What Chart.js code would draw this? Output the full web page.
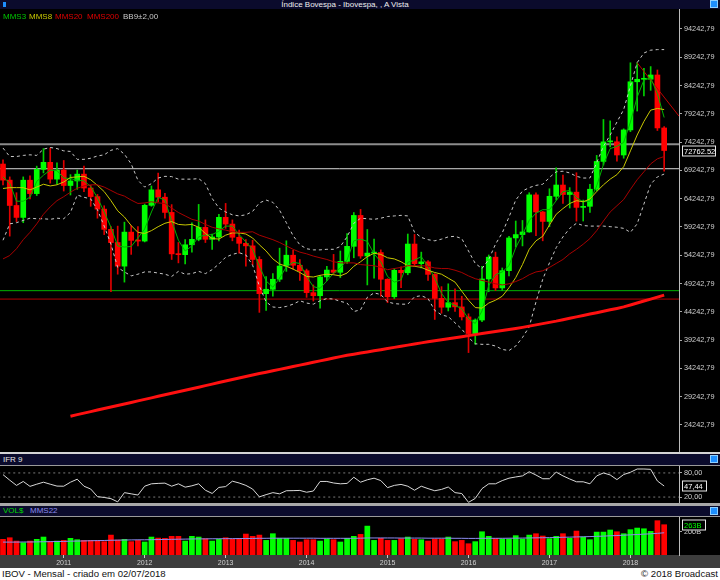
<!DOCTYPE html>
<html>
<head>
<meta charset="utf-8">
<title>Índice Bovespa - Ibovespa</title>
<script src="https://cdn.jsdelivr.net/npm/chart.js@4.4.1/dist/chart.umd.min.js"></script>
<style>
  body { margin: 0; width: 720px; height: 580px; background: #000; position: relative; overflow: hidden;
         font-family: "Liberation Sans", Arial, sans-serif; }
  .abs { position: absolute; }
  .bar { left: 0; width: 720px; background: #0b0b2c; }
  .txt { position: absolute; font-size: 8px; line-height: 10px; white-space: nowrap; }
  .icon { position: absolute; right: 2px; width: 6px; height: 6px; background: #1e8fff; border: 1px solid #8fd0ff; }
  canvas { display: block; }
</style>
</head>
<body>

<!-- title bar -->
<div class="abs bar" style="top:0;height:9px"></div>
<div class="abs" style="left:3px;top:2px;width:3px;height:5px;background:#1e8fff"></div>
<div class="txt" style="left:0;top:0;width:690px;text-align:center;line-height:9px;color:#eee">Índice Bovespa - Ibovespa, , A Vista</div>
<div class="icon" style="top:0"></div>

<!-- main panel -->
<div class="abs" style="left:0;top:9px;width:720px;height:443px"><canvas id="main-chart" width="720" height="443"></canvas></div>
<div class="txt" style="left:3px;top:12px;color:#00c800">MMS3</div>
<div class="txt" style="left:29px;top:12px;color:#c8c800">MMS8</div>
<div class="txt" style="left:55px;top:12px;color:#e00000">MMS20</div>
<div class="txt" style="left:87px;top:12px;color:#e00000">MMS200</div>
<div class="txt" style="left:123px;top:12px;color:#c8c8c8">BB9±2,00</div>

<!-- IFR panel -->
<div class="abs" style="left:0;top:452px;width:720px;height:2px;background:#d4d4d4"></div>
<div class="abs bar" style="top:454px;height:11px"></div>
<div class="abs" style="left:0;top:465px;width:720px;height:1px;background:#9a9a9a"></div>
<div class="txt" style="left:3px;top:455px;color:#e6e6e6">IFR 9</div>
<div class="icon" style="top:455px"></div>
<div class="abs" style="left:0;top:466px;width:720px;height:37px"><canvas id="rsi-chart" width="720" height="37"></canvas></div>

<!-- volume panel -->
<div class="abs" style="left:0;top:503px;width:720px;height:3px;background:#a8a8a8"></div>
<div class="abs bar" style="top:506px;height:10px"></div>
<div class="abs" style="left:0;top:516px;width:720px;height:1px;background:#9a9a9a"></div>
<div class="txt" style="left:3px;top:506px;color:#00d800">VOL$</div>
<div class="txt" style="left:30px;top:506px;color:#8c8cf0">MMS22</div>
<div class="icon" style="top:507px"></div>
<div class="abs" style="left:0;top:555px;width:720px;height:13px;background:#3d3d3d"></div>
<div class="abs" style="left:0;top:517px;width:720px;height:51px"><canvas id="vol-chart" width="720" height="51"></canvas></div>

<!-- footer -->
<div class="abs" style="left:0;top:568px;width:720px;height:12px;background:#fff"></div>
<div class="txt" style="left:2px;top:568px;font-size:9.6px;line-height:12px;color:#111">IBOV - Mensal - criado em 02/07/2018</div>
<div class="txt" style="right:2px;top:568px;font-size:9.6px;line-height:12px;color:#111">© 2018 Broadcast</div>

<script>
// --- DATA: monthly candles, Apr/2010 .. Jun/2018 ---
const opens = [70372,67529,63046,60936,67515,65145,69430,70673,67705,69305,
  66575,67383,68587,66133,64620,62404,58823,56495,52324,58338,
  56875,56754,63072,65812,64511,61820,54491,54355,56097,57061,
  59176,57068,57475,60952,59761,57424,56352,55910,53506,47457,
  48234,50008,52338,54256,52482,51507,47639,47094,50415,51627,
  51239,53168,55829,61288,54116,54629,54724,50007,46908,51583,
  51150,56229,52760,53081,50865,46626,45059,45868,45120,43350,
  40406,42793,50055,53910,48472,51527,57308,57901,58367,64924,
  61906,60227,64670,66662,64984,65403,62711,62900,65920,70835,
  74294,74308,71971,76402,84913,85353,85366,86115,76754];
const highs = [71100,68100,65300,68100,68300,70000,73100,73200,70600,71000,
  68500,69300,70000,66600,65000,63000,59300,59400,60100,59500,
  59300,63300,66500,68770,65200,63200,56500,57000,60000,63235,
  60500,58000,61500,63410,60500,58700,57000,56900,54000,50500,
  51000,55500,56800,55100,53500,51800,49000,50700,52300,54400,
  55000,58100,61800,62350,58800,57100,55200,50100,51900,52200,
  58000,57930,54800,53300,51000,48700,49200,48300,47000,43900,
  43000,52300,54300,54800,52000,57600,60300,60400,65300,65300,
  62000,66000,69710,68400,66200,68830,64000,66800,71900,78250,
  78000,75200,76600,88270,88270,87300,87600,87000,77000];
const lows = [66700,57634,60200,60000,64200,64800,68800,67000,66800,65600,
  64900,65900,65500,62900,60800,57900,47793,50900,49500,54400,
  55900,56600,62900,63700,60800,53500,52900,52700,54800,56800,
  56500,55280,56800,59000,56800,54600,52300,52600,44150,44500,
  47000,49600,51400,51800,49800,46800,46150,44900,49800,50900,
  50300,52800,53800,53700,49000,50200,47000,45860,46600,48500,
  50800,52300,52000,49800,42900,44000,44400,44300,42800,37046,
  38500,42500,47800,48000,48000,50600,55700,55900,58300,57700,
  56800,59300,64000,63400,62600,60280,60300,61800,65600,70200,
  73400,70900,71400,76100,79740,82400,83400,76300,69130];
const closes = [67529,63046,60936,67515,65145,69430,70673,67705,69305,66575,
  67383,68587,66133,64620,62404,58823,56495,52324,58338,56875,
  56754,63072,65812,64511,61820,54491,54355,56097,57061,59176,
  57068,57475,60952,59761,57424,56352,55910,53506,47457,48234,
  50008,52338,54256,52482,51507,47639,47094,50415,51627,51239,
  53168,55829,61288,54116,54629,54724,50007,46908,51583,51150,
  56229,52760,53081,50865,46626,45059,45868,45120,43350,40406,
  42793,50055,53910,48472,51527,57308,57901,58367,64924,61906,
  60227,64670,66662,64984,65403,62711,62900,65920,70835,74294,
  74308,71971,76402,84913,85353,85366,86115,76754,72762];

// indicator lines as they appear on the chart
const mms3 = [68100,67000,63800,63800,64500,67300,68400,69300,69200,67900,
  67800,67500,67400,66400,64400,61900,59200,55900,55700,55800,
  57300,58900,61900,64500,64000,60300,56900,55000,55900,57500,
  57800,57900,58500,59400,59400,57900,56600,55300,52300,49700,
  48600,50200,52200,53000,52800,50500,48700,48400,49700,51100,
  52000,53400,56800,57100,56700,54500,53100,50500,49500,49900,
  53000,53400,54000,52300,50200,47500,45900,45400,44800,43000,
  42200,44400,48900,50800,51300,52400,55600,57900,60400,61700,
  62300,62300,63900,65500,65700,64400,63700,63800,66500,70300,
  73100,73500,74200,77800,82200,85200,85600,82800,78600];
const mms8 = [66050,66200,66200,66200,65800,66300,66800,66500,66700,67200,
  68000,68100,68200,67600,66600,65500,63900,62100,61000,59500,
  58300,58100,58600,59300,59900,60200,59700,59600,59700,59200,
  58100,57200,57100,57800,58200,58200,58000,57300,56100,55000,
  53600,52700,52300,51800,51200,50500,50400,50700,50900,50800,
  50600,51100,52300,53100,54000,54600,54400,53800,53600,53100,
  52400,52300,52100,51600,51200,50900,50200,49500,47900,46300,
  45000,44900,45800,46300,47000,48500,50300,52600,55300,56800,
  57600,59600,61500,62500,63400,63900,63700,64200,65500,66700,
  67700,68500,69900,72700,75500,77900,79900,80200,80000];
const mms20 = [53600,54200,55400,57000,58300,59800,61500,62800,63900,64600,
  65400,66100,66500,66700,66700,66300,65700,65100,64700,64000,
  63400,63500,63700,63500,63400,62600,61800,61200,60600,60300,
  59700,59200,58900,58700,58400,58300,58300,58400,57800,57400,
  57000,56500,55900,55300,54800,54500,54100,53800,53500,53100,
  52900,52900,52900,52600,52500,52400,52100,51700,51900,52100,
  52400,52400,52400,52300,52000,51900,51900,51600,51200,50600,
  50100,49800,49500,49200,49000,49200,49600,50100,50800,51300,
  51500,52100,52800,53500,54500,55300,56200,57200,58600,60300,
  61900,63000,64100,65900,67600,69000,70400,71300,71700];
const mms200 = [null,null,null,null,null,null,null,null,null,null,
  25800,26070,26340,26610,26880,27150,27420,27690,27960,28230,
  28500,28770,29040,29310,29580,29850,30120,30390,30660,30930,
  31200,31470,31740,32010,32280,32550,32820,33080,33330,33580,
  33830,34080,34330,34580,34830,35080,35330,35580,35830,36080,
  36330,36560,36760,36960,37160,37360,37560,37760,37960,38160,
  38360,38560,38760,38960,39140,39320,39500,39680,39860,40040,
  40220,40400,40580,40760,40940,41120,41300,41500,41720,41940,
  42160,42380,42600,42850,43100,43350,43600,43850,44100,44350,
  44600,44850,45120,45450,45800,46150,46500,46850,47200];
const bbUpper = [73200,71700,71700,71900,72000,71900,73000,73300,73100,72700,
  72600,71200,71200,71400,71800,72000,72800,73100,72100,70400,
  67500,66300,66900,67900,68200,68150,67700,67700,67700,67800,
  66900,64300,62600,61900,61400,61200,61400,62000,63500,64000,
  63600,62200,60000,57700,56100,55400,55200,55200,55300,55300,
  55800,57500,59900,60800,60700,60600,60800,61100,61200,61300,
  61200,58300,57400,57000,56800,57100,57500,57600,57200,55000,
  52800,51900,53500,56200,58200,61000,64000,65600,66200,66600,
  66800,68000,69000,69100,68800,68200,67900,67900,70600,73500,
  75500,77800,80000,84200,88300,90000,90500,90600,90600];
const bbLower = [56900,59800,60000,60400,60800,60700,60700,60600,60800,60700,
  61800,64900,64500,64200,62300,59400,56200,52100,51300,50600,
  50900,51300,51300,51100,50900,50500,51400,50900,51000,51400,
  51000,51700,52700,53900,54400,54700,54300,52500,48800,46000,
  45100,45000,45200,45600,46200,45800,45600,46200,46600,46500,
  46100,45800,44300,44600,46800,47600,47300,46000,45700,45600,
  45600,46900,47100,46600,44500,43700,43400,42300,41200,39700,
  38600,38500,38500,38200,37600,37400,38200,39700,41600,46000,
  50000,52900,55600,57500,59000,59900,59500,59400,59400,59400,
  59300,59200,59000,58300,59800,63300,66800,68100,68600];

// drawn levels and trend line (price values)
const hLevels = [73890, 69543, 47985, 46500];
const hColors = ['#8c8c8c', '#d8d8d8', '#00b400', '#b40000'];
const hWidths = [2, 1, 1, 1];
const trendX = [94, 100.2];
const trendY = [88270, 78840];

// IFR 9
const rsi = [75.8,62,49,58.8,46.6,52,57,52,47.3,47,
  57,64.4,47,40,21,19,16,8,31,28,
  25,47,53,54,54.7,47,53,44.6,48,53,
  37,29,44,46,59.5,55,49,40,20.5,26,
  31,28,35.7,36,36.5,32,35,58.8,58.8,55,
  53,54,69.3,57,63,67,61,43.4,49,51.5,
  47,37,47,41,35.7,39,45,31,28.8,6.8,
  16.6,41,53,53,61,67,70,72.7,83,74.8,
  65.6,65.6,82,72.7,65,58,58,53,72.7,80,
  75,63.4,76,81.7,89.8,89.8,89,60,47.44];
const rsiLevels = [80, 20];

// VOL$ (R$ billions) and its MMS22
const volume = [136,150,121,107,121,136,156,116,121,127,
  145,133,127,127,127,116,173,130,136,116,
  127,113,156,147,145,162,162,121,162,156,
  142,121,136,150,139,145,182,162,173,127,
  185,145,145,127,113,133,133,121,139,133,
  113,145,162,179,251,127,145,127,127,142,
  156,136,133,121,139,139,156,116,127,98,
  116,202,162,145,139,139,168,139,173,185,
  165,142,162,185,145,208,156,133,199,199,
  217,202,185,220,234,228,205,298,263];
const volMMS22 = [112,112,112,113,113,114,115,116,117,118,
  120,121,122,124,125,126,128,129,130,131,
  132,132,133,134,135,136,137,138,139,140,
  140,141,141,142,142,143,143,144,145,145,
  146,146,146,146,146,146,146,145,145,145,
  145,145,145,146,148,148,148,148,148,147,
  147,147,147,146,146,146,146,145,145,144,
  144,145,145,145,145,146,146,147,148,149,
  150,151,152,154,155,157,158,160,162,164,
  167,169,172,175,178,181,184,188,193];

// axis ticks / labels
const priceTicks = [24242.79,29242.79,34242.79,39242.79,44242.79,49242.79,54242.79,
  59242.79,64242.79,69242.79,74242.79,79242.79,84242.79,89242.79,94242.79];
const rsiTicks = [20, 80];
const volTicks = [200];
const yearTicks = [9, 21, 33, 45, 57, 69, 81, 93];
const yearLabels = ['2011','2012','2013','2014','2015','2016','2017','2018'];

const months = [];
for (let y = 2010, m = 4; months.length < closes.length; m++) {
    if (m > 12) { m = 1; y++; }
    months.push(String(m).padStart(2, '0') + '/' + y);
}

// --- SETUP ---
const X_MIN = -0.445, X_MAX = 100.2;
const FONT = '"Liberation Sans", Arial, sans-serif';
Chart.defaults.font.family = FONT;
Chart.defaults.animation = false;

const GREEN = '#00ff00', RED = '#ff0000';
const isUp = i => closes[i] >= opens[i];
const candleColors = months.map((m, i) => isUp(i) ? GREEN : RED);
const wickColors = months.map((m, i) => isUp(i) ? '#00d000' : '#e00000');

const pts = arr => arr.map((v, i) => ({ x: i, y: v }));
const flat = v => [{ x: X_MIN - 1, y: v }, { x: X_MAX + 1, y: v }];

function lineSet(label, data, color, width, extra) {
    return Object.assign({
        type: 'line', label, data, borderColor: color, borderWidth: width,
        pointRadius: 0, fill: false, tension: 0, order: 1
    }, extra || {});
}

// boxed last value on the right axis
const valueBox = {
    id: 'valueBox',
    afterDraw(chart, args, opts) {
        const { ctx, chartArea, scales } = chart;
        const y = Math.round(scales.y.getPixelForValue(opts.value));
        const x0 = chartArea.right + 3, h = 11;
        ctx.save();
        ctx.fillStyle = '#000';
        ctx.fillRect(x0, y - h / 2, opts.width, h);
        ctx.strokeStyle = '#e8e8e8';
        ctx.lineWidth = 1;
        ctx.strokeRect(x0 + 0.5, y - h / 2 + 0.5, opts.width - 1, h - 1);
        ctx.fillStyle = opts.color;
        ctx.font = '7.5px ' + FONT;
        ctx.textBaseline = 'middle';
        ctx.fillText(opts.text, x0 + 2, y + 0.5);
        ctx.restore();
    }
};

function rightAxis(min, max, ticks, fmt) {
    return {
        position: 'right', min, max,
        afterBuildTicks: s => { s.ticks = ticks.map(v => ({ value: v })); },
        afterFit: s => { s.width = 41; s.paddingTop = 0; s.paddingBottom = 0; },
        ticks: { color: '#d0d0d0', font: { size: 7.3 }, padding: 2, callback: fmt },
        grid: { drawOnChartArea: false, color: '#a8a8a8', tickLength: 3 },
        border: { display: true, color: '#bcbcbc', width: 1 }
    };
}

const hiddenX = { type: 'linear', min: X_MIN, max: X_MAX, offset: false, display: false, grid: { offset: false } };
const commaFmt = v => Number(v).toFixed(2).replace('.', ',');

// --- MAIN PRICE CHART ---
const mainDatasets = [];
hLevels.forEach((v, k) => mainDatasets.push(lineSet('nivel' + k, flat(v), hColors[k], hWidths[k], { order: 8 })));
mainDatasets.push(
    { type: 'bar', label: 'sombras', data: months.map((m, i) => ({ x: i, y: [lows[i], highs[i]] })),
      backgroundColor: wickColors, barThickness: 1, grouped: false, order: 7 },
    { type: 'bar', label: 'corpos', data: months.map((m, i) => ({ x: i, y: [opens[i], closes[i]] })),
      backgroundColor: candleColors, barThickness: 5, minBarLength: 1, grouped: false, order: 6 },
    lineSet('BB sup', pts(bbUpper), '#c8c8c8', 1, { borderDash: [3, 3], order: 3 }),
    lineSet('BB inf', pts(bbLower), '#c8c8c8', 1, { borderDash: [3, 3], order: 3 }),
    lineSet('MMS200', pts(mms200), '#ff1010', 3, { order: 2 }),
    lineSet('MMS20', pts(mms20), '#a80000', 1),
    lineSet('MMS8', pts(mms8), '#c8c800', 1),
    lineSet('MMS3', pts(mms3), '#00b400', 1),
    lineSet('LT', trendX.map((x, k) => ({ x, y: trendY[k] })), '#c00000', 1)
);

new Chart(document.getElementById('main-chart'), {
    type: 'bar',
    data: { datasets: mainDatasets },
    options: {
        responsive: false,
        layout: { padding: 0 },
        plugins: {
            legend: { display: false }, tooltip: { enabled: false },
            valueBox: { value: closes[closes.length - 1], text: '72762.52', width: 34, color: '#fff' }
        },
        scales: {
            x: hiddenX,
            y: rightAxis(19469, 97778, priceTicks, commaFmt)
        }
    },
    plugins: [valueBox]
});

// --- IFR 9 ---
const rsiDatasets = rsiLevels.map(v => lineSet('ref' + v, flat(v), '#7a7a7a', 1, { borderDash: [2, 3], order: 2 }));
rsiDatasets.push(lineSet('IFR 9', pts(rsi), '#d8d8d8', 1));

new Chart(document.getElementById('rsi-chart'), {
    type: 'line',
    data: { datasets: rsiDatasets },
    options: {
        responsive: false,
        layout: { padding: 0 },
        plugins: {
            legend: { display: false }, tooltip: { enabled: false },
            valueBox: { value: rsi[rsi.length - 1], text: commaFmt(rsi[rsi.length - 1]), width: 25, color: '#fff' }
        },
        scales: {
            x: hiddenX,
            y: rightAxis(5.2, 97.3, rsiTicks, commaFmt)
        }
    },
    plugins: [valueBox]
});

// --- VOL$ ---
new Chart(document.getElementById('vol-chart'), {
    type: 'bar',
    data: {
        datasets: [
            { type: 'bar', label: 'VOL$', data: pts(volume), backgroundColor: candleColors,
              barThickness: 5, grouped: false, order: 2 },
            lineSet('MMS22', pts(volMMS22), '#8c8cf0', 1)
        ]
    },
    options: {
        responsive: false,
        layout: { padding: 0 },
        plugins: {
            legend: { display: false }, tooltip: { enabled: false },
            valueBox: { value: volume[volume.length - 1], text: volume[volume.length - 1] + 'B', width: 24, color: '#00ff00' }
        },
        scales: {
            x: {
                type: 'linear', min: X_MIN, max: X_MAX, offset: false,
                afterBuildTicks: s => { s.ticks = yearTicks.map(v => ({ value: v })); },
                afterFit: s => { s.height = 13; s.paddingLeft = 0; s.paddingRight = 0; },
                ticks: { color: '#d0d0d0', font: { size: 7 }, padding: 1, maxRotation: 0, autoSkip: false,
                         callback: v => yearLabels[yearTicks.indexOf(v)] },
                grid: { offset: false, drawOnChartArea: false, color: '#c8c8c8', tickLength: 3 },
                border: { display: false }
            },
            y: rightAxis(0, 330, volTicks, v => v + 'B')
        }
    },
    plugins: [valueBox]
});
</script>
</body>
</html>
